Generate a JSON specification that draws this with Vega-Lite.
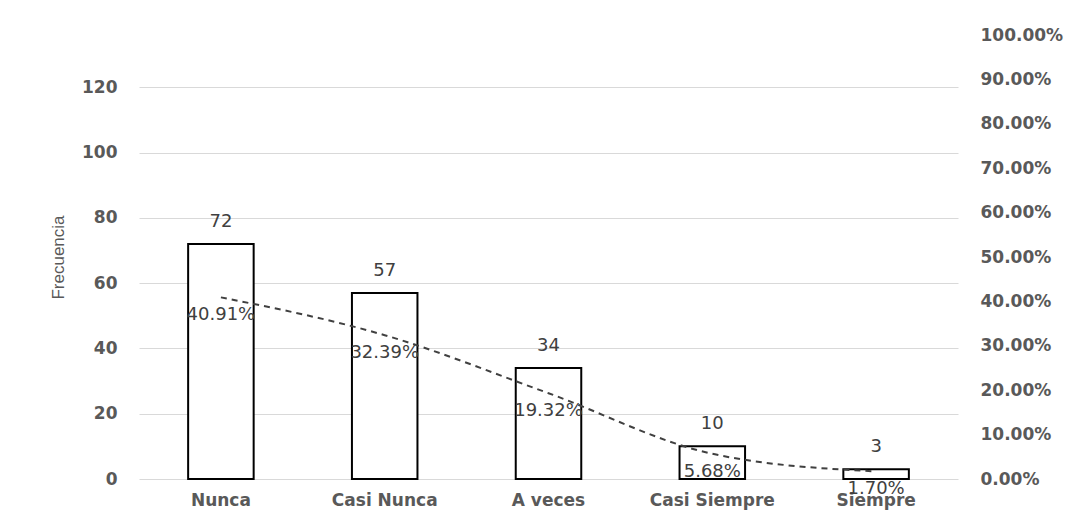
{
  "$schema": "https://vega.github.io/schema/vega-lite/v6.json",
  "autosize": {"type": "none"},
  "padding": {"left": 139, "top": 35, "right": 112, "bottom": 42},
  "width": 819,
  "height": 444,
  "background": "white",
  "config": {"view": {"stroke": null}, "font": "DejaVu Sans"},
  "data": {"values": [
    {"cat": "Nunca", "freq": 72, "pct": 0.4091},
    {"cat": "Casi Nunca", "freq": 57, "pct": 0.3239},
    {"cat": "A veces", "freq": 34, "pct": 0.1932},
    {"cat": "Casi Siempre", "freq": 10, "pct": 0.0568},
    {"cat": "Siempre", "freq": 3, "pct": 0.017}
  ]},
  "encoding": {
    "x": {"field": "cat", "type": "nominal", "sort": null,
      "scale": {"paddingInner": 0.6, "paddingOuter": 0.3},
      "axis": {"title": null, "labelAngle": 0, "domain": false, "ticks": false,
        "labelFont": "DejaVu Sans", "labelFontSize": 17, "labelFontWeight": "bold",
        "labelColor": "#595959", "labelPadding": 13}}
  },
  "layer": [
    {
      "layer": [
        {"mark": {"type": "bar", "fill": "white", "stroke": "black", "strokeWidth": 2},
          "encoding": {"y": {"field": "freq", "type": "quantitative",
            "scale": {"domain": [0, 136], "nice": false},
            "axis": {"title": "Frecuencia", "titleFont": "Liberation Sans", "titleFontSize": 17,
              "titleFontWeight": "normal", "titleColor": "#595959", "titlePadding": 14,
              "values": [0, 20, 40, 60, 80, 100, 120], "domain": false, "ticks": false,
              "labelFont": "DejaVu Sans", "labelFontSize": 17, "labelFontWeight": "bold",
              "labelColor": "#595959", "labelPadding": 22,
              "grid": true, "gridColor": "#d9d9d9", "gridWidth": 1}}}},
        {"mark": {"type": "text", "baseline": "bottom", "dy": -13, "fontSize": 18, "color": "#404040"},
          "encoding": {"y": {"field": "freq", "type": "quantitative"}, "text": {"field": "freq", "type": "quantitative"}}}
      ]
    },
    {
      "layer": [
        {"mark": {"type": "line", "interpolate": "monotone", "strokeDash": [6, 5], "strokeWidth": 2, "color": "#404040"},
          "encoding": {"y": {"field": "pct", "type": "quantitative",
            "scale": {"domain": [0, 1], "nice": false},
            "axis": {"orient": "right", "title": null, "format": ".2%",
              "values": [0, 0.1, 0.2, 0.3, 0.4, 0.5, 0.6, 0.7, 0.8, 0.9, 1],
              "domain": false, "ticks": false, "grid": false,
              "labelFont": "DejaVu Sans", "labelFontSize": 17, "labelFontWeight": "bold",
              "labelColor": "#595959", "labelPadding": 22}}}},
        {"mark": {"type": "text", "baseline": "middle", "dy": 18, "fontSize": 18, "color": "#404040"},
          "encoding": {"y": {"field": "pct", "type": "quantitative"},
            "text": {"field": "pct", "type": "quantitative", "format": ".2%"}}}
      ]
    }
  ],
  "resolve": {"scale": {"y": "independent"}}
}
